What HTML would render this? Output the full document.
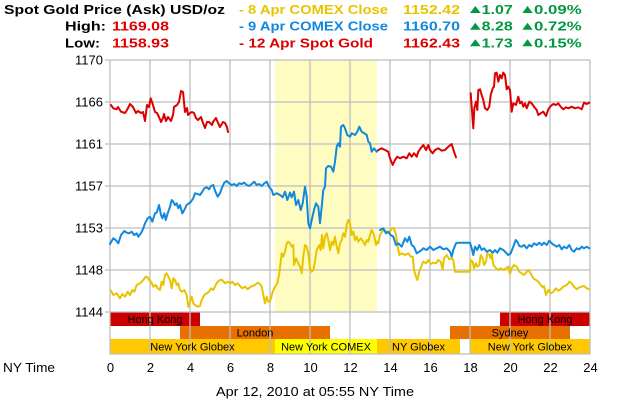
<!DOCTYPE html>
<html><head><meta charset="utf-8"><style>
html,body{margin:0;padding:0;background:#fff;}
svg{display:block;}
text{font-family:"Liberation Sans",Arial,sans-serif;}
</style></head><body>
<svg width="630" height="400" viewBox="0 0 630 400" xmlns="http://www.w3.org/2000/svg">
<rect width="630" height="400" fill="#fff"/>
<!-- header -->
<g font-size="13" font-weight="bold">
<text x="4" y="14" textLength="221" lengthAdjust="spacingAndGlyphs" fill="#000">Spot Gold Price (Ask) USD/oz</text>
<text x="65" y="30.7" textLength="41" lengthAdjust="spacingAndGlyphs" fill="#000">High:</text>
<text x="112" y="30.7" textLength="57" lengthAdjust="spacingAndGlyphs" fill="#DD0000">1169.08</text>
<text x="65" y="47.3" textLength="35" lengthAdjust="spacingAndGlyphs" fill="#000">Low:</text>
<text x="112" y="47.3" textLength="57" lengthAdjust="spacingAndGlyphs" fill="#DD0000">1158.93</text>

<text x="239" y="14" textLength="149" lengthAdjust="spacingAndGlyphs" fill="#E8C400">- 8 Apr COMEX Close</text>
<text x="403" y="14" textLength="57" lengthAdjust="spacingAndGlyphs" fill="#E8C400">1152.42</text>
<text x="239" y="30.7" textLength="149" lengthAdjust="spacingAndGlyphs" fill="#1188DD">- 9 Apr COMEX Close</text>
<text x="403" y="30.7" textLength="57" lengthAdjust="spacingAndGlyphs" fill="#1188DD">1160.70</text>
<text x="239" y="47.3" textLength="134" lengthAdjust="spacingAndGlyphs" fill="#DD0000">- 12 Apr Spot Gold</text>
<text x="403" y="47.3" textLength="57" lengthAdjust="spacingAndGlyphs" fill="#DD0000">1162.43</text>

<g fill="#009940">
<polygon points="470,13 480.7,13 475.3,6"/>
<text x="481.7" y="14" textLength="31" lengthAdjust="spacingAndGlyphs">1.07</text>
<polygon points="522.3,13 532.7,13 527.5,6"/>
<text x="534" y="14" textLength="47.7" lengthAdjust="spacingAndGlyphs">0.09%</text>
<polygon points="470,29.7 480.7,29.7 475.3,22.7"/>
<text x="481.7" y="30.7" textLength="31" lengthAdjust="spacingAndGlyphs">8.28</text>
<polygon points="522.3,29.7 532.7,29.7 527.5,22.7"/>
<text x="534" y="30.7" textLength="47.7" lengthAdjust="spacingAndGlyphs">0.72%</text>
<polygon points="470,46.3 480.7,46.3 475.3,39.3"/>
<text x="481.7" y="47.3" textLength="31" lengthAdjust="spacingAndGlyphs">1.73</text>
<polygon points="522.3,46.3 532.7,46.3 527.5,39.3"/>
<text x="534" y="47.3" textLength="47.7" lengthAdjust="spacingAndGlyphs">0.15%</text>
</g>
</g>

<!-- highlight -->
<rect x="275" y="60" width="102" height="252" fill="#FFFCC2"/>

<!-- bands -->
<rect x="110" y="312" width="90" height="14" fill="#CC0000"/>
<rect x="500" y="312" width="90" height="14" fill="#CC0000"/>
<rect x="180" y="326" width="150" height="13" fill="#E87000"/>
<rect x="450" y="326" width="120" height="13" fill="#E87000"/>
<rect x="110" y="339" width="165" height="15" fill="#FFC800"/>
<rect x="275" y="339" width="102" height="15" fill="#FFFF00"/>
<rect x="377" y="339" width="83" height="15" fill="#FFC800"/>
<rect x="470" y="339" width="120" height="15" fill="#FFC800"/>

<!-- grid -->
<g stroke="#BEBEBE" stroke-width="1.3" fill="none">
<line x1="105" y1="60" x2="590" y2="60"/>
<line x1="105" y1="102" x2="590" y2="102"/>
<line x1="105" y1="144" x2="590" y2="144"/>
<line x1="105" y1="186" x2="590" y2="186"/>
<line x1="105" y1="228" x2="590" y2="228"/>
<line x1="105" y1="270" x2="590" y2="270"/>
<line x1="105" y1="312" x2="590" y2="312"/>
<line x1="110" y1="354" x2="590" y2="354"/>
<line x1="110" y1="60" x2="110" y2="354"/>
<line x1="150" y1="60" x2="150" y2="354"/>
<line x1="190" y1="60" x2="190" y2="354"/>
<line x1="230" y1="60" x2="230" y2="354"/>
<line x1="270" y1="60" x2="270" y2="354"/>
<line x1="310" y1="60" x2="310" y2="354"/>
<line x1="350" y1="60" x2="350" y2="354"/>
<line x1="390" y1="60" x2="390" y2="354"/>
<line x1="430" y1="60" x2="430" y2="354"/>
<line x1="470" y1="60" x2="470" y2="354"/>
<line x1="510" y1="60" x2="510" y2="354"/>
<line x1="550" y1="60" x2="550" y2="354"/>
<line x1="590" y1="60" x2="590" y2="354"/>
</g>

<!-- band labels -->
<g font-size="11" fill="#000" text-anchor="middle">
<text x="155" y="323">Hong Kong</text>
<text x="545" y="323">Hong Kong</text>
<text x="255" y="336.5">London</text>
<text x="510" y="336.5">Sydney</text>
<text x="192.5" y="350.5">New York Globex</text>
<text x="326" y="350.5">New York COMEX</text>
<text x="418.5" y="350.5">NY Globex</text>
<text x="530" y="350.5">New York Globex</text>
</g>

<!-- series -->
<g fill="none" stroke-width="2" stroke-linejoin="round" stroke-linecap="round">
<polyline stroke="#E8C400" points="111,290.7 113.3,295 116.7,293.3 120,298.3 122.3,294 125,296.7 127.7,291.7 130,295 132.3,290 134.3,291.7 136.7,285 140,283.3 143.3,280 145.7,276.7 147.7,277.3 149,280 151,281.7 153.3,286.7 155.7,285 157.7,288.3 160,290 161.7,281.7 163.3,285 165,275 166.7,273.3 168.3,276.7 170,280 171.7,288.3 173.3,278.3 175,280 176.7,285 178.3,283.3 180,290 181.7,291.7 184.3,290 186.7,295 188.3,306.7 190,301.7 191.7,296.7 193.3,303.3 195,305 197.7,306.7 200,306 201.7,300 204.3,295 206.7,293.3 209,291.7 211,288.3 213.3,290 215.7,285 217.7,281.7 220,280 222.3,280 225,283.3 227.7,281.7 230,283.3 232.3,281.7 235,285 237.7,283.3 240,286 242.3,288.3 245,286.7 247.7,289.3 250,287.3 252.3,286 255,285 257.7,282.7 260,284 261.7,286.7 263.3,295 265,303.3 266.7,296.7 268.3,301.7 270,301.7 272.7,291.7 275,286.7 277.3,283.3 279.3,273.3 281.7,253.3 283.3,256.7 285,251.7 286.7,243.3 288.3,241.7 290,243.3 291.7,246.7 293.3,245 294,265 296,258.3 298.3,263.3 300.7,268.3 301.7,273.3 303.3,256.7 305,245 306.7,246.7 308.3,253.3 310,268.3 311.7,271.7 313.3,270 315,261.7 316.7,250 319.3,245 320.7,250 322,235 323.3,248.3 325,236.7 326.7,233.3 328.3,240 330,250 331.7,241.7 333.3,245 335,236.7 336.7,246.7 338.3,253.3 340,243.3 341.7,240 343.3,233.3 345,236.7 346.7,225 348.3,220 350,223.3 351.7,235 353.3,231.7 355,240 356.7,236.7 358.3,241.7 360.7,238.3 363.3,241.7 365,245 366.7,240 368.3,241.7 370,235 371.7,230 374,235 376,245 377.3,241.7 378.3,243.3 380,235 383.3,230 386.7,231.7 389.3,233.3 391.7,228.3 394,228.3 396,235 397.7,246.7 399.3,255 401.7,253.3 405,255 408.3,253.3 410.7,256.7 412.7,256.7 414,270 416,276.7 417.3,280 419.3,271.7 421.7,265 423.3,261.7 426,263.3 428.3,260 430.7,264 433.3,262.7 436,263.3 438.3,260 440.7,261.7 442.7,269.3 444,258.3 446.7,255 449.3,259.3 451.7,258.3 453.3,260 455,271.7 470,271.7 470.7,260 472.7,261.7 474,268.3 476,263.3 477.3,266.7 479.3,265 480.7,255 482.7,258.3 484,265 486,261.7 487.3,253.3 489.3,255 490.7,258.3 491.7,253.3 493.3,265 496,268.3 498.3,270 500.7,268.3 503.3,270 506,268.3 508.3,266.7 510,274 511.7,268.3 514,265 516.7,266.7 519.3,271.7 521.7,273.3 524,275 526,272.7 528.3,270 530.7,273.3 533.3,278.3 536,280 538.3,281.7 540.7,285 542.7,287.3 544,286 546,295 548.3,290 550.7,293.3 553.3,291.7 556,288.3 558.3,290.7 560.7,289.3 563.3,286.7 566.7,285 569.3,281.7 571.7,283.3 574,286.7 576.7,289.3 579.3,287.3 581.7,286.7 584,286 586.7,288.3 589.3,289.3"/>
<polyline stroke="#1188DD" points="110,244 113.3,238.3 115.7,240 118.3,243.3 121,235 124.3,231 126.7,232.7 129,233.3 131.7,231.7 134.3,235 136.7,233.3 138.3,236.7 141,233.3 143.3,228.3 145,223.3 147.7,218.3 150,216.7 152.3,221.7 155,213.3 156.7,212.7 159,205 161,215 162.3,218.3 164.3,213.3 165.7,220 167.7,213.3 170,206.7 171.7,200 173.3,201.7 175,205 176.7,203.3 178.3,208.3 180,205 182.3,213.3 184.3,210 186.7,205 189,203.3 191,201.7 193.3,198.3 195,193.3 197.7,194 200,195 202.3,191.7 204.3,188.3 206.7,187.3 209,189.3 211,186 213.3,185 215,190.7 217.7,196.7 220,193.3 221.7,188.3 224.3,182.7 226.7,181 229,183.3 231.7,185 234.3,184 236.7,186 239,183.3 241.7,184 244.3,182.7 246.7,185 249,186 251.7,184 254.3,181.7 256.7,185 259,184 261.7,186 264.3,183.3 266.7,181.7 269,186.7 271.7,190 273.3,195 276.7,193.3 280,195 282.7,197.3 285,191.7 287.3,200 290,192.7 291.7,197.3 294,191.7 296,205 298.3,200 300.7,210 302.7,203.3 305,186.7 306.7,196.7 308.3,223.3 310,228.3 311.7,220 314,210 316,203.3 318.3,206.7 320,223.3 321.7,206.7 323.3,190 325,186.7 326,168.3 328.3,166 331,166.7 333.3,171.7 335,161.7 336.7,146.7 338.3,143.3 340,146.7 341,126.7 343.3,125 345,128.3 347.3,135 350,136.7 351.7,133.3 355,135 357.3,131.7 359.3,126.7 361.7,131.7 364.3,133.3 366.7,135 368.3,141.7 370,143.3 371.7,151.7 374,148.3 376.7,151.7 378.3,150"/>
<polyline stroke="#1188DD" points="380,230 383.3,228.3 386,233.3 388.3,231.7 390.7,235 393.3,236.7 396,245 398.3,243.3 401.7,246.7 405,238.3 407.3,241.7 409.3,236.7 411.7,245 414,246.7 416.7,253.3 419.3,251.7 421.7,250 423.3,248.3 426.7,250 430,246.7 433.3,250 436.7,248.3 440,246.7 443.3,249.3 446.7,248.3 450,251.7 451.7,256.7 453.3,250 456,243.3 458.3,242.7 470,242.7 471.7,248.3 473.3,255 475,246.7 477.3,250 479.3,245 481.7,250 484,248.3 486.7,251.7 490,250 492.7,252.7 495,250 497.3,252.7 500,248.3 503.3,250 506,252.7 508.3,255 510.7,253.3 513.3,246.7 515.7,240 517.3,241.7 519.3,246 521.7,246.7 524,245 526.7,248.3 529.3,245 531.7,246.7 534,243.3 536.7,245 539.3,242.7 541.7,245 544,242.7 546.7,245 549.3,240.7 551.7,243.3 554,245 556.7,246.7 559.3,245 561.7,249.3 564,246.7 566.7,248.3 569.3,245 571.7,250 574,251.7 576.7,248.3 579.3,249.3 581.7,246.7 584,248.3 586.7,246.7 589.3,248.3"/>
<polyline stroke="#DD0000" points="111,105 113.3,108.3 116.7,109.3 118,107 121,111.7 125,113 127,110 130,104 133,107 136,113 138,111 141,113 143,112 145,121 147,105 149,107 150.7,98.3 153,105 155,112 157,113 159,117 161,122 163,118 164,114 166,121 168,117 171,121 173,115 174,107 177,105 179,102 181,91 183,92 184,102 185,112 187,108 188,115 190,113 192,112 194,113 196,118 198,120 201,117 203,123 205,128 207,122 209,122 212,125 213,122 216,118 218,123 220,127 223,122 225,123 227,127 228,132"/>
<polyline stroke="#DD0000" points="378.3,150 381.7,148.3 385,150 388.3,151.7 390,158.3 392.7,165 395,160 397.3,156.7 400,158.3 403.3,156.7 406.7,158.3 409.3,153.3 411.7,156.7 414,153.3 416.7,156.7 418.3,151.7 420.7,148.3 423.3,145 426,150 428.3,145 430,150 432.7,153.3 435,150 438.3,148.3 441.7,150.7 445,150 448.3,146.7 451.7,144 454,151.7 456,157.3"/>
<polyline stroke="#DD0000" points="470.7,93.3 473.3,128.3 474.3,108.3 476,101.7 477.3,110 478.3,90 480,89.3 481.7,95 483.3,100 485,108.3 487.3,110 489.3,106.7 490.7,95 492.7,88.3 494,86.7 495,73.3 496.7,72.7 498.3,81.7 500,75 501.7,78.3 503.3,72.7 505,75 506.7,89.3 508.3,86.7 510,90 511.7,111.7 513.3,103.3 516,105 518.3,96.7 520,103.3 521.7,101.7 523.3,106.7 525,103.3 526.7,108.3 529.3,101.7 531.7,103.3 534,106.7 536.7,110 538.3,115 540.7,113.3 543.3,111.7 546,116 548.3,109.3 550.7,106 553.3,104 556,105 558.3,103.3 560.7,106.7 563.3,109.3 566,107.3 568.3,108.3 571.7,106.7 575,108.3 578.3,107.3 581.7,109.3 584,102.7 586.7,104 589.3,102.7"/>
</g>

<!-- y labels -->
<g font-size="13" fill="#000" text-anchor="end">
<text x="103" y="64.5">1170</text>
<text x="103" y="106.5">1166</text>
<text x="103" y="148.5">1161</text>
<text x="103" y="190.5">1157</text>
<text x="103" y="232.5">1153</text>
<text x="103" y="274.5">1148</text>
<text x="103" y="316.5">1144</text>
</g>
<!-- x labels -->
<g font-size="13" fill="#000" text-anchor="middle">
<text x="110.5" y="372">0</text>
<text x="150.5" y="372">2</text>
<text x="190.5" y="372">4</text>
<text x="230.5" y="372">6</text>
<text x="270.5" y="372">8</text>
<text x="310.5" y="372">10</text>
<text x="350.5" y="372">12</text>
<text x="390.5" y="372">14</text>
<text x="430.5" y="372">16</text>
<text x="470.5" y="372">18</text>
<text x="510.5" y="372">20</text>
<text x="550.5" y="372">22</text>
<text x="590.5" y="372">24</text>
</g>
<text x="3" y="372" font-size="13" fill="#000" textLength="52" lengthAdjust="spacingAndGlyphs">NY Time</text>
<text x="216" y="396" font-size="13" fill="#000" textLength="198" lengthAdjust="spacingAndGlyphs">Apr 12, 2010 at 05:55 NY Time</text>
</svg>
</body></html>
